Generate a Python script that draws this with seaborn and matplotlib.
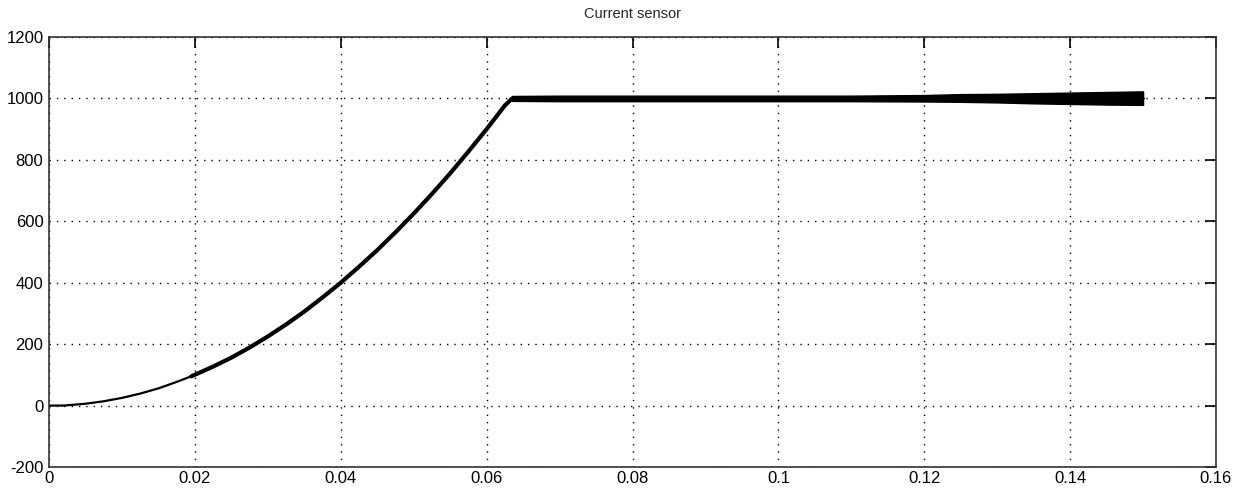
import matplotlib
matplotlib.use("Agg")
import matplotlib.pyplot as plt
import seaborn as sns
import pandas as pd

# ---- data ----
t_rise_early = [0.0, 0.002, 0.003, 0.005, 0.0075, 0.010, 0.0125, 0.015, 0.0175, 0.020]
i_rise_early = [0, 0, 2, 6, 14, 25, 39, 56, 77, 100]
t_rise = [0.0195, 0.0225, 0.025, 0.0275, 0.030, 0.0325, 0.035, 0.0375, 0.040, 0.0425,
          0.045, 0.0475, 0.050, 0.0525, 0.055, 0.0575, 0.060, 0.0625, 0.0635]
i_rise = [95, 127, 156, 189, 225, 264, 306, 352, 400, 452,
          506, 564, 625, 689, 756, 827, 900, 977, 1000]

t_flat = [0.0635, 0.070, 0.080, 0.090, 0.100, 0.110, 0.120, 0.125, 0.130, 0.135, 0.140, 0.145, 0.150]
i_upper = [1008, 1009, 1009, 1009, 1009, 1009, 1011, 1014, 1015, 1017, 1019, 1021, 1023]
i_lower = [992, 991, 991, 991, 991, 991, 990, 989, 987, 984, 982, 980, 979]
i_mid = [1000] * len(t_flat)

x_ticks = [0, 0.02, 0.04, 0.06, 0.08, 0.10, 0.12, 0.14, 0.16]
x_labels = ["0", "0.02", "0.04", "0.06", "0.08", "0.1", "0.12", "0.14", "0.16"]
y_ticks = [-200, 0, 200, 400, 600, 800, 1000, 1200]
y_labels = ["-200", "0", "200", "400", "600", "800", "1000", "1200"]
title = "Current sensor"

sns.set_style("white")
plt.rcParams["font.family"] = ["Liberation Sans", "DejaVu Sans"]

fig = plt.figure(figsize=(12.35, 4.88), dpi=100)
ax = fig.add_axes([49 / 1235, 21 / 488, (1216 - 49) / 1235, (467 - 37) / 488])

df_early = pd.DataFrame({"t": t_rise_early, "i": i_rise_early})
df_rise = pd.DataFrame({"t": t_rise, "i": i_rise})
df_flat = pd.DataFrame({"t": t_flat, "i": i_mid})

sns.lineplot(data=df_early, x="t", y="i", ax=ax, color="black", lw=1.6, estimator=None, sort=False)
sns.lineplot(data=df_rise, x="t", y="i", ax=ax, color="black", lw=3.0, estimator=None, sort=False)
ax.fill_between(t_flat, i_lower, i_upper, color="black", lw=1.0, edgecolor="black")
sns.lineplot(data=df_flat, x="t", y="i", ax=ax, color="black", lw=2.0, estimator=None, sort=False)

ax.set_xlim(0, 0.16)
ax.set_ylim(-200, 1200)
ax.set_xticks(x_ticks)
ax.set_xticklabels(x_labels)
ax.set_yticks(y_ticks)
ax.set_yticklabels(y_labels)
ax.set_xlabel("")
ax.set_ylabel("")

ax.grid(True, color="black", linestyle=(0, (1.0, 4.3)), lw=1.0)
ax.set_axisbelow(True)
ax.tick_params(direction="in", length=8, width=1.2, colors="black",
               top=True, right=True, labelsize=12, pad=4)
ax.tick_params(axis="x", pad=3)
for s in ax.spines.values():
    s.set_color("#333333")
    s.set_linewidth(1.2)

ax.set_title(title, fontsize=10.5, pad=14)

fig.savefig("out.png", dpi=100, facecolor="white")
